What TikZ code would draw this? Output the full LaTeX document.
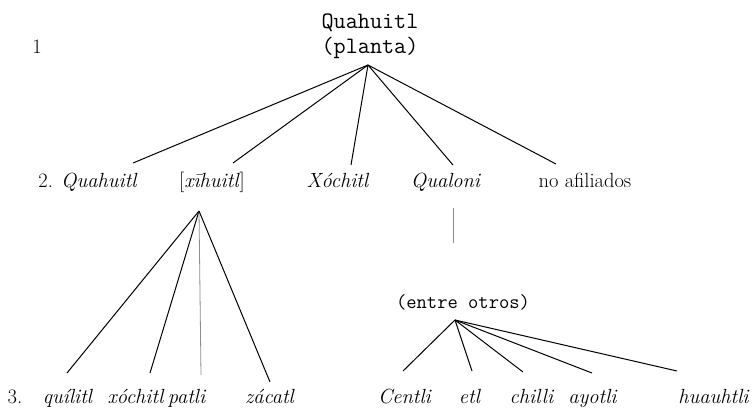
\documentclass[tikz,border=0pt]{standalone}
\usepackage{fontspec}
\begin{document}
\begin{tikzpicture}[x=1pt,y=-1pt,
  lbl/.style={anchor=base,inner sep=0pt,font=\fontsize{20.5}{23}\selectfont},
  mono/.style={anchor=base,inner sep=0pt,font=\ttfamily\fontsize{23.5}{26}\selectfont},
  monosmall/.style={anchor=base,inner sep=0pt,font=\ttfamily\fontsize{20}{23}\selectfont},
  branch/.style={line width=1pt,black},
  faint/.style={line width=0.8pt,black!45}]
\useasboundingbox (0,0) rectangle (753,413);

% level 1
\node[lbl] (one) at (37,53) {1};
\node[mono] (root) at (370,28) {Quahuitl};
\node[mono] (rootsub) at (370,53) {(planta)};
\coordinate (apexA) at (368,65);

% level 2
\node[lbl] (quahuitl) at (88,187) {2. \textit{Quahuitl}};
\node[lbl] (xihuitl) at (212,187) {[\textit{xīhuitl}]};
\node[lbl] (xochitl) at (338,187) {\textit{Xóchitl}};
\node[lbl] (qualoni) at (446,187) {\textit{Qualoni}};
\node[lbl] (noafil) at (585,187) {no afiliados};

\coordinate (eQua) at (133,163);
\coordinate (eXih) at (233,163);
\coordinate (eXoc) at (351,165);
\coordinate (eQual) at (453,165);
\coordinate (eNo) at (556,164);
\foreach \e in {eQua,eXih,eXoc,eQual,eNo} \draw[branch] (apexA) -- (\e);

% level 3, under [xihuitl]
\coordinate (apexB) at (199,211);
\node[lbl] (three) at (15,403) {3.};
\node[lbl] (quilitl) at (68,403) {\textit{quílitl}};
\node[lbl] (xochitlb) at (136,403) {\textit{xóchitl}};
\node[lbl] (patli) at (187,403) {\textit{patli}};
\node[lbl] (zacatl) at (270,403) {\textit{zácatl}};
\coordinate (eQui) at (67,373);
\coordinate (eXob) at (150,373);
\coordinate (ePat) at (201,375);
\coordinate (eZac) at (270,382);
\draw[branch] (apexB) -- (eQui);
\draw[branch] (apexB) -- (eXob);
\draw[faint] (apexB) -- (ePat);
\draw[branch] (apexB) -- (eZac);

% level 3, under Qualoni
\coordinate (qTop) at (453,208);
\coordinate (qBot) at (453,243);
\draw[faint] (qTop) -- (qBot);
\node[monosmall] (entre) at (463,308) {(entre otros)};
\coordinate (apexC) at (455,320);
\node[lbl] (centli) at (405,403) {\textit{Centli}};
\node[lbl] (etl) at (470,403) {\textit{etl}};
\node[lbl] (chilli) at (532,403) {\textit{chilli}};
\node[lbl] (ayotli) at (593,403) {\textit{ayotli}};
\node[lbl] (huauhtli) at (714,403) {\textit{huauhtli}};
\coordinate (eCen) at (403,371);
\coordinate (eEtl) at (472,371);
\coordinate (eChi) at (523,372);
\coordinate (eAyo) at (592,373);
\coordinate (eHua) at (677,371);
\foreach \e in {eCen,eEtl,eChi,eAyo,eHua} \draw[branch] (apexC) -- (\e);
\end{tikzpicture}
\end{document}
